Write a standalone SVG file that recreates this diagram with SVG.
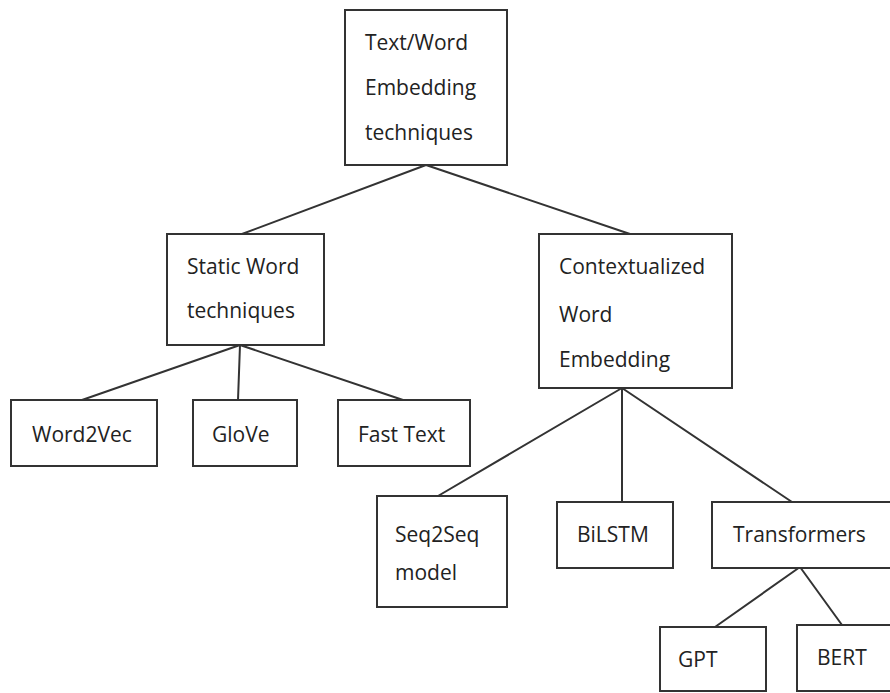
<svg xmlns="http://www.w3.org/2000/svg" width="890" height="693" viewBox="0 0 890 693">
  <style>
    .box { fill: #ffffff; stroke: #333333; stroke-width: 2; }
    .edge { fill: none; stroke: #333333; stroke-width: 2; }
    .lbl { font-family: "Open Sans", "Liberation Sans", sans-serif; font-size: 21px; fill: #222222; }
  </style>
  <rect width="890" height="693" fill="#ffffff"/>

  <g id="connectors">
    <path class="edge" d="M426 165 L242 234 M426 165 L630 234"/>
    <path class="edge" d="M240 345 L82 400 M240 345 L238 400 M240 345 L403 400"/>
    <path class="edge" d="M622 388 L438 496 M622 388 L622 502 M622 388 L792 502"/>
    <path class="edge" d="M800 567 L715 627 M800 567 L842 625"/>
  </g>

  <g id="root">
    <rect class="box" x="345" y="10" width="162" height="155"/>
    <text class="lbl" x="365" y="50">Text/Word</text>
    <text class="lbl" x="365" y="95">Embedding</text>
    <text class="lbl" x="365" y="140">techniques</text>
  </g>

  <g id="static">
    <rect class="box" x="167" y="234" width="157" height="111"/>
    <text class="lbl" x="187" y="274">Static Word</text>
    <text class="lbl" x="187" y="318">techniques</text>
  </g>

  <g id="contextual">
    <rect class="box" x="539" y="234" width="193" height="154"/>
    <text class="lbl" x="559" y="274">Contextualized</text>
    <text class="lbl" x="559" y="322">Word</text>
    <text class="lbl" x="559" y="367">Embedding</text>
  </g>

  <g id="word2vec">
    <rect class="box" x="11" y="400" width="146" height="66"/>
    <text class="lbl" x="32" y="442">Word2Vec</text>
  </g>

  <g id="glove">
    <rect class="box" x="193" y="400" width="104" height="66"/>
    <text class="lbl" x="212" y="442">GloVe</text>
  </g>

  <g id="fasttext">
    <rect class="box" x="338" y="400" width="132" height="66"/>
    <text class="lbl" x="358" y="442">Fast Text</text>
  </g>

  <g id="seq2seq">
    <rect class="box" x="377" y="496" width="130" height="111"/>
    <text class="lbl" x="395" y="542">Seq2Seq</text>
    <text class="lbl" x="395" y="580">model</text>
  </g>

  <g id="bilstm">
    <rect class="box" x="557" y="502" width="116" height="66"/>
    <text class="lbl" x="577" y="542">BiLSTM</text>
  </g>

  <g id="transformers">
    <rect class="box" x="712" y="502" width="190" height="66"/>
    <text class="lbl" x="733" y="542">Transformers</text>
  </g>

  <g id="gpt">
    <rect class="box" x="660" y="627" width="106" height="64"/>
    <text class="lbl" x="678" y="667">GPT</text>
  </g>

  <g id="bert">
    <rect class="box" x="797" y="625" width="105" height="66"/>
    <text class="lbl" x="817" y="665">BERT</text>
  </g>
</svg>
